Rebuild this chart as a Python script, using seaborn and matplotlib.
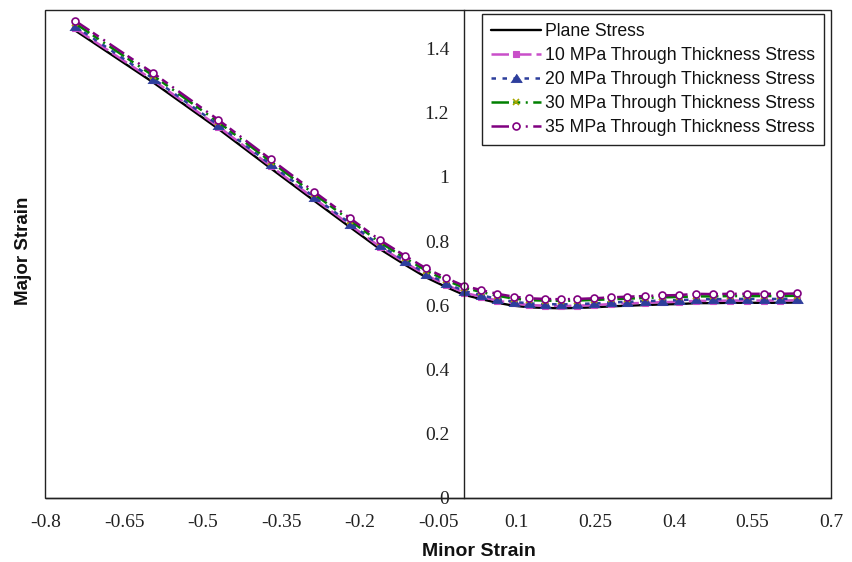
import matplotlib
matplotlib.use("Agg")
import matplotlib.pyplot as plt
import seaborn as sns
from matplotlib.patches import Rectangle

# ---------------- data ----------------
minor_strain = [-0.744, -0.594, -0.470, -0.370, -0.287, -0.218, -0.162, -0.114,
                -0.073, -0.036, -0.001, 0.031, 0.063, 0.094, 0.124, 0.154,
                0.184, 0.215, 0.247, 0.280, 0.311, 0.345, 0.377, 0.409,
                0.443, 0.475, 0.507, 0.539, 0.572, 0.603, 0.636]

plane_stress = [1.457, 1.294, 1.150, 1.027, 0.926, 0.843, 0.776, 0.727,
                0.687, 0.658, 0.633, 0.620, 0.608, 0.599, 0.594, 0.592,
                0.591, 0.592, 0.594, 0.597, 0.599, 0.601, 0.603, 0.604,
                0.607, 0.607, 0.608, 0.608, 0.608, 0.608, 0.609]

tts_10 = [1.463, 1.301, 1.157, 1.034, 0.933, 0.850, 0.783, 0.734,
          0.694, 0.665, 0.640, 0.627, 0.615, 0.606, 0.601, 0.599,
          0.598, 0.599, 0.601, 0.604, 0.606, 0.608, 0.610, 0.611,
          0.614, 0.614, 0.615, 0.615, 0.615, 0.615, 0.616]

tts_20 = [1.470, 1.306, 1.162, 1.039, 0.938, 0.855, 0.788, 0.739,
          0.699, 0.670, 0.645, 0.632, 0.620, 0.611, 0.606, 0.604,
          0.603, 0.604, 0.606, 0.609, 0.611, 0.613, 0.615, 0.616,
          0.619, 0.619, 0.620, 0.620, 0.620, 0.620, 0.621]

tts_30 = [1.479, 1.315, 1.171, 1.048, 0.947, 0.864, 0.797, 0.748,
          0.708, 0.679, 0.655, 0.642, 0.630, 0.621, 0.616, 0.615,
          0.614, 0.615, 0.617, 0.619, 0.621, 0.623, 0.625, 0.626,
          0.628, 0.628, 0.629, 0.629, 0.629, 0.629, 0.630]

tts_35 = [1.487, 1.323, 1.178, 1.055, 0.954, 0.871, 0.804, 0.755,
          0.715, 0.686, 0.661, 0.648, 0.636, 0.627, 0.622, 0.620,
          0.619, 0.620, 0.622, 0.625, 0.627, 0.629, 0.631, 0.632,
          0.636, 0.635, 0.636, 0.636, 0.636, 0.636, 0.637]

series_labels = ["Plane Stress",
                 "10 MPa Through Thickness Stress",
                 "20 MPa Through Thickness Stress",
                 "30 MPa Through Thickness Stress",
                 "35 MPa Through Thickness Stress"]

x_ticks = [-0.8, -0.65, -0.5, -0.35, -0.2, -0.05, 0.1, 0.25, 0.4, 0.55, 0.7]
x_tick_labels = ["-0.8", "-0.65", "-0.5", "-0.35", "-0.2", "-0.05",
                 "0.1", "0.25", "0.4", "0.55", "0.7"]
y_ticks = [0, 0.2, 0.4, 0.6, 0.8, 1.0, 1.2, 1.4]
y_tick_labels = ["0", "0.2", "0.4", "0.6", "0.8", "1", "1.2", "1.4"]

# ---------------- style ----------------
sns.set_style("white")
plt.rcParams["font.family"] = ["Liberation Sans", "DejaVu Sans"]

W, H = 853, 562
fig = plt.figure(figsize=(W / 100, H / 100), dpi=100)
ax_l, ax_r, ax_b, ax_t = 45.5, 831.0, 498.0, 10.0
ax = fig.add_axes([ax_l / W, 1 - ax_b / H, (ax_r - ax_l) / W, (ax_b - ax_t) / H])

tri = [(-1.0, -0.72), (1.0, -0.72), (0.0, 0.78)]

styles = [
    dict(color="black", linestyle="-", linewidth=1.7),
    dict(color="#C94FC9", linestyle=(0, (7, 2)), linewidth=1.8,
         marker="s", markersize=4.3, markerfacecolor="#C94FC9",
         markeredgecolor="#C94FC9", markeredgewidth=0.8),
    dict(color="#2D3E9C", linestyle=(0, (1.8, 2.6)), linewidth=1.8,
         marker=tri, markersize=8.2, markerfacecolor="#2D3E9C",
         markeredgecolor="#2D3E9C", markeredgewidth=0.6),
    dict(color="#008000", linestyle=(0, (7, 1.7, 2.8, 2.2, 0.8, 2.2)), linewidth=1.8,
         marker="x", markersize=5.0, markerfacecolor="#A8A800",
         markeredgecolor="#A8A800", markeredgewidth=1.2),
    dict(color="#800080", linestyle=(0, (7, 1.7, 2.8, 2.2, 0.8, 2.2)), linewidth=1.8,
         marker="o", markersize=5.0, markerfacecolor="white",
         markeredgecolor="#800080", markeredgewidth=1.2),
]

all_y = [plane_stress, tts_10, tts_20, tts_30, tts_35]
for yv, lab, st in zip(all_y, series_labels, styles):
    sns.lineplot(x=minor_strain, y=yv, ax=ax, sort=False, estimator=None,
                 label=lab, legend=False, **st)

ax.set_xlim(-0.8, 0.7)
ax.set_ylim(0, 1.52)

# axes: y axis crosses at x = 0, outer frame drawn around plot area
for s in ["top", "right"]:
    ax.spines[s].set_visible(False)
ax.spines["left"].set_position(("data", 0))
ax.spines["left"].set_color("#222222")
ax.spines["left"].set_linewidth(1.0)
ax.spines["bottom"].set_color("#222222")
ax.spines["bottom"].set_linewidth(1.0)
ax.add_patch(Rectangle((0, 0), 1, 1, transform=ax.transAxes, fill=False,
                       edgecolor="#222222", linewidth=1.0, clip_on=False, zorder=0.5))

ax.set_xticks(x_ticks)
ax.set_xticklabels(x_tick_labels)
ax.set_yticks(y_ticks)
ax.set_yticklabels(y_tick_labels)
ax.tick_params(axis="x", direction="out", length=4, width=1, pad=7.5,
               labelsize=14, colors="#222222", labelcolor="#222222")
ax.tick_params(axis="y", direction="out", length=5.5, width=1, pad=5.5,
               labelsize=14, colors="#222222", labelcolor="#222222")
for lab in ax.get_xticklabels() + ax.get_yticklabels():
    lab.set_fontfamily(["Liberation Serif", "DejaVu Serif"])

ax.set_xlabel("")
ax.set_ylabel("")
fig.text(479 / W, 1 - 551.5 / H, "Minor Strain", ha="center", va="center",
         fontsize=14, fontweight="bold", color="#111111")
fig.text(23.5 / W, 1 - 250.5 / H, "Major Strain", ha="center", va="center",
         rotation=90, fontsize=13.5, fontweight="bold", color="#111111")

handles, labels = ax.get_legend_handles_labels()
leg = ax.legend(handles, labels, loc="upper right",
                bbox_to_anchor=((824.3 - ax_l) / (ax_r - ax_l), (ax_b - 14) / (ax_b - ax_t)),
                borderaxespad=0, frameon=True, fancybox=False, framealpha=1,
                edgecolor="#222222", fontsize=12.7, labelspacing=0.4,
                handlelength=2.8, handletextpad=0.28, borderpad=0.5)
leg.get_frame().set_linewidth(1.0)
for t in leg.get_texts():
    t.set_color("#111111")

fig.savefig("out.png", dpi=100)
